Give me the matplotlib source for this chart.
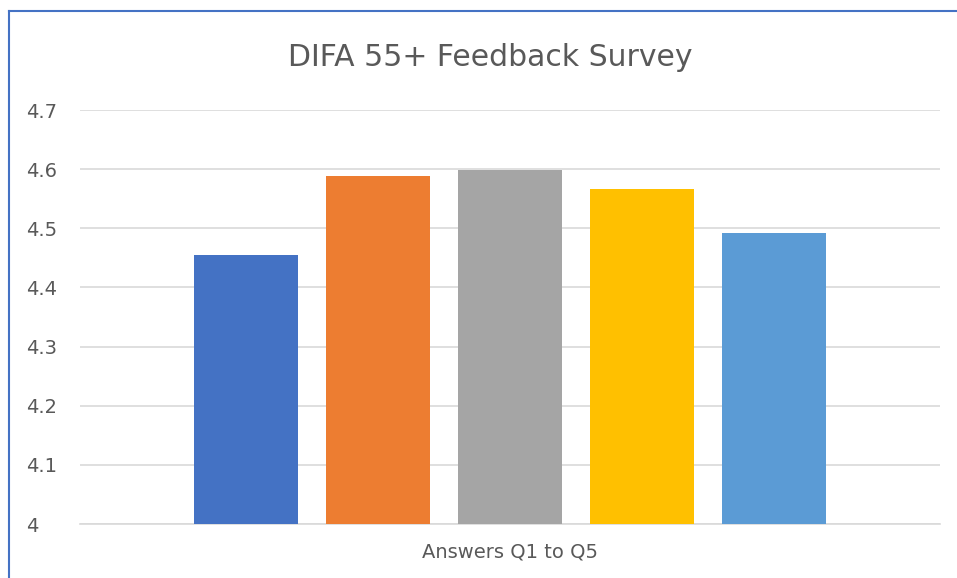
import matplotlib.pyplot as plt
from matplotlib.lines import Line2D

# Valeurs
questions = ["Q1", "Q2", "Q3", "Q4", "Q5"]
scores = [4.455, 4.588, 4.599, 4.566, 4.492]
colors = ["#4472C4", "#ED7D31", "#A5A5A5", "#FFC000", "#5B9BD5"]
y_ticks = [4.0, 4.1, 4.2, 4.3, 4.4, 4.5, 4.6, 4.7]
y_labels = ["4", "4.1", "4.2", "4.3", "4.4", "4.5", "4.6", "4.7"]

W, H = 957, 578
fig = plt.figure(figsize=(W / 100, H / 100), dpi=100)
ax = fig.add_axes([80 / W, 1 - 524 / H, 860 / W, 414 / H])

x = range(len(scores))
ax.bar(x, scores, width=0.788, color=colors, zorder=3)

ax.set_ylim(4.0, 4.7)
ax.set_xlim(-1.258, 5.258)
ax.set_yticks(y_ticks)
ax.set_yticklabels(y_labels, ha="left")
ax.set_xticks([])
ax.tick_params(axis="y", length=0, pad=39, labelsize=14, labelcolor="#595959")
ax.grid(axis="y", color="#D9D9D9", linewidth=1.2, zorder=0)
for side in ["left", "right", "top"]:
    ax.spines[side].set_visible(False)
ax.spines["bottom"].set_color("#D9D9D9")
ax.spines["bottom"].set_linewidth(1.2)

ax.set_xlabel("Answers Q1 to Q5", fontsize=14, color="#595959", labelpad=13)
fig.text(490 / W, 1 - 57 / H, "DIFA 55+ Feedback Survey", fontsize=21.5,
         color="#595959", ha="center", va="center")

# bordure du graphique (haut et gauche)
fig.add_artist(Line2D([9 / W, 9 / W], [0, 1 - 11 / H], color="#4472C4", linewidth=1.5))
fig.add_artist(Line2D([9 / W, 1], [1 - 11 / H, 1 - 11 / H], color="#4472C4", linewidth=1.5))

fig.savefig("out.png", dpi=100)
